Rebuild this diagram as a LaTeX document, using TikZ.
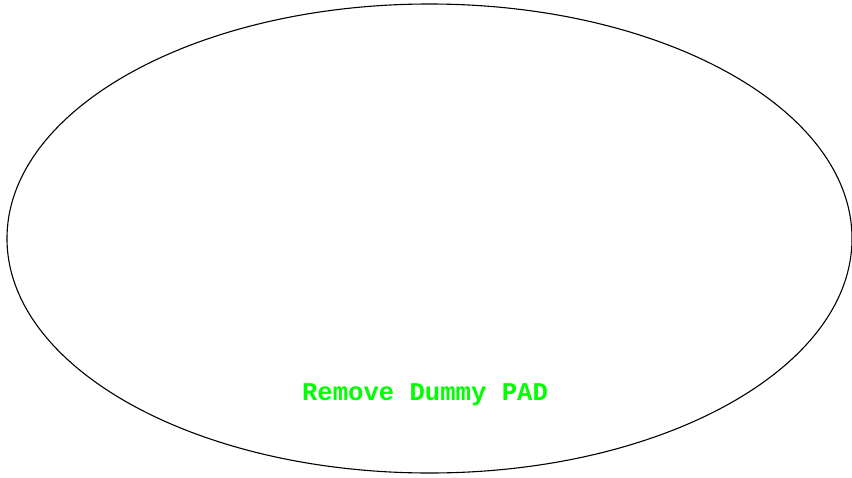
\documentclass[tikz,border=0pt]{standalone}
\usepackage{fontspec}
\setmonofont{Liberation Mono}
\begin{document}
\begin{tikzpicture}[x=1pt,y=-1pt,
  padlabel/.style={text=green,font=\ttfamily\bfseries\fontsize{25.6}{28}\selectfont,inner sep=0pt}]
\useasboundingbox (0,0) rectangle (852,477);
\draw[line width=1.1pt] (429.5,238.5) ellipse [x radius=422.5, y radius=234.5];
\node[padlabel] (lbl) at (425,394.5) {Remove Dummy PAD};
\end{tikzpicture}
\end{document}
